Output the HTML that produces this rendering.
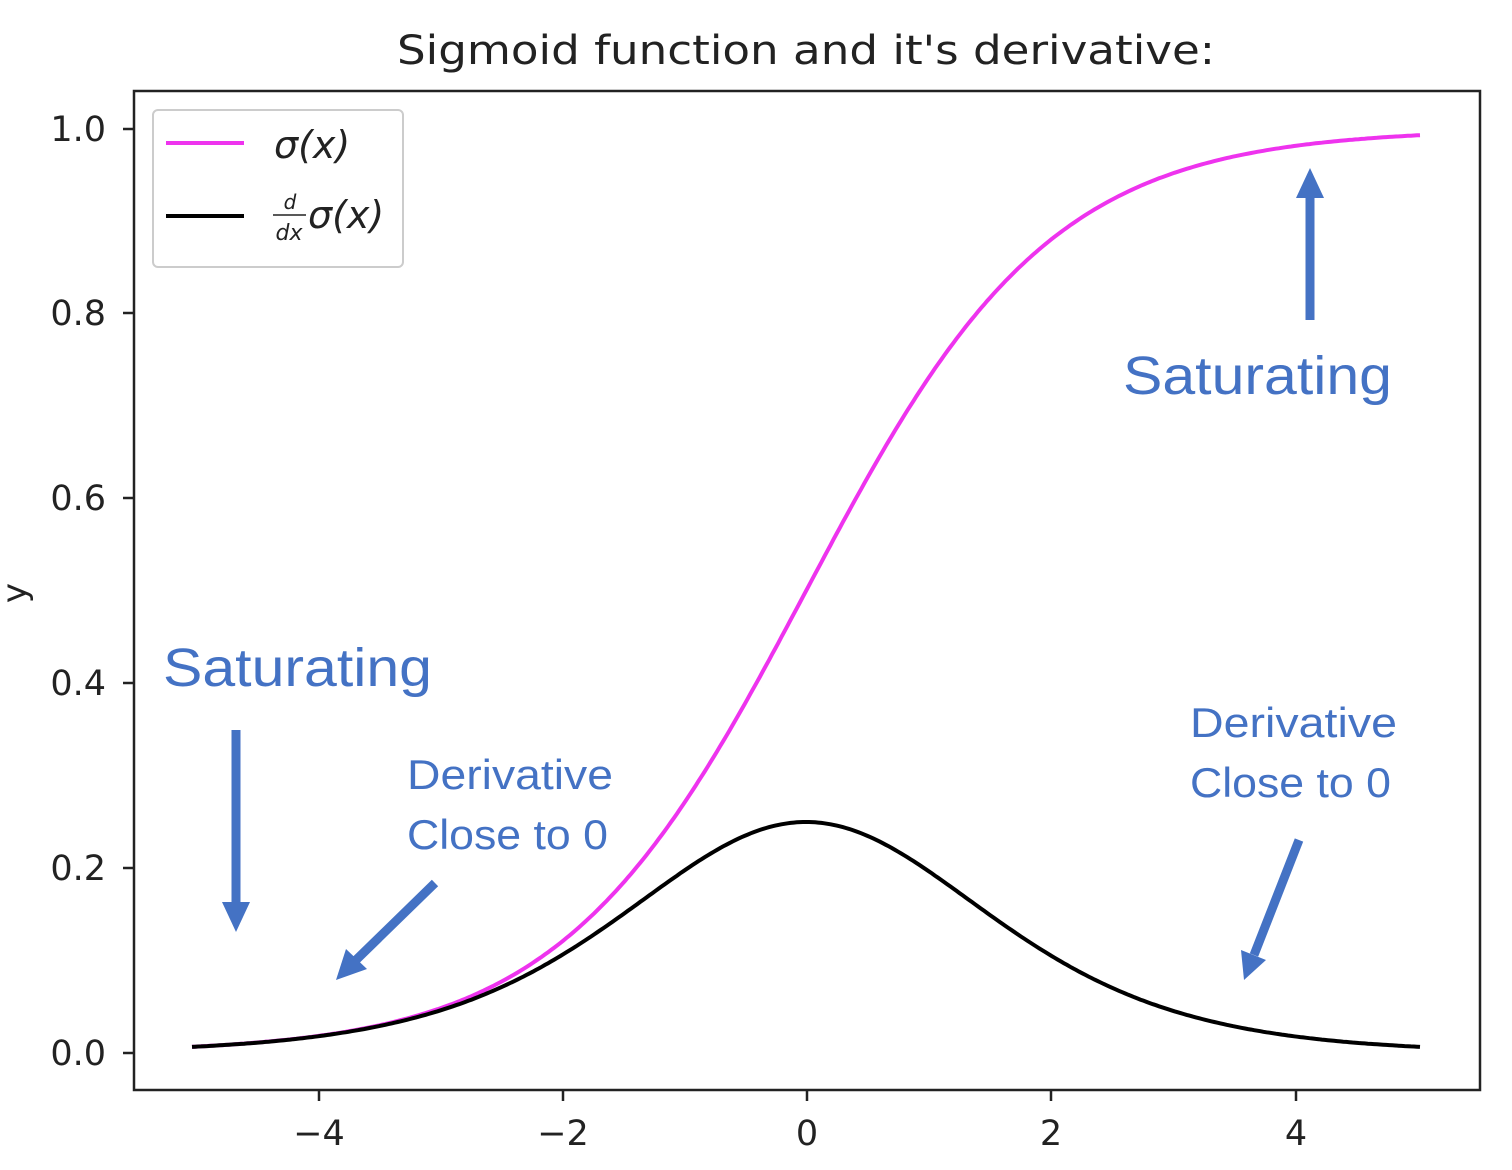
<!DOCTYPE html>
<html><head><meta charset="utf-8"><style>
html,body{margin:0;padding:0;background:#fff;}
svg{display:block;font-family:"DejaVu Sans","Liberation Sans",sans-serif;}
</style></head><body>
<svg id="s" width="1512" height="1170" viewBox="0 0 1512 1170" xmlns="http://www.w3.org/2000/svg">
<rect width="1512" height="1170" fill="#fff"/>
<text x="806" y="64" font-size="40" text-anchor="middle" fill="#222" textLength="818" lengthAdjust="spacingAndGlyphs">Sigmoid function and it's derivative:</text>
<g id="curves"></g>
<rect x="134" y="91" width="1346" height="999" fill="none" stroke="#222" stroke-width="2.5"/>
<g stroke="#222" stroke-width="2.5">
<line x1="319" y1="1090" x2="319" y2="1101"/><line x1="563" y1="1090" x2="563" y2="1101"/>
<line x1="807" y1="1090" x2="807" y2="1101"/><line x1="1051" y1="1090" x2="1051" y2="1101"/>
<line x1="1296" y1="1090" x2="1296" y2="1101"/>
<line x1="123" y1="129" x2="134" y2="129"/><line x1="123" y1="313" x2="134" y2="313"/>
<line x1="123" y1="498" x2="134" y2="498"/><line x1="123" y1="683" x2="134" y2="683"/>
<line x1="123" y1="868" x2="134" y2="868"/><line x1="123" y1="1053" x2="134" y2="1053"/>
</g>
<g font-size="35" fill="#222" text-anchor="middle">
<text x="319" y="1145">−4</text><text x="563" y="1145">−2</text><text x="807" y="1145">0</text>
<text x="1051" y="1145">2</text><text x="1296" y="1145">4</text>
</g>
<g font-size="35" fill="#222" text-anchor="end">
<text x="106" y="141">1.0</text><text x="106" y="325">0.8</text><text x="106" y="510">0.6</text>
<text x="106" y="695">0.4</text><text x="106" y="880">0.2</text><text x="106" y="1065">0.0</text>
</g>
<text x="26" y="593" font-size="34" fill="#222" text-anchor="middle" transform="rotate(-90 26 593)">y</text>
<rect x="153" y="110" width="250" height="157" rx="5" fill="#fff" fill-opacity="0.85" stroke="#ccc" stroke-width="2"/>
<line x1="166" y1="143" x2="244" y2="143" stroke="#ee33ee" stroke-width="4"/>
<line x1="166" y1="216" x2="244" y2="216" stroke="#000" stroke-width="4"/>
<text x="274" y="158" font-size="38" fill="#222" font-style="italic">σ(x)</text>
<text x="290" y="209" font-size="20" fill="#222" font-style="italic" text-anchor="middle">d</text>
<line x1="273" y1="215" x2="306" y2="215" stroke="#222" stroke-width="1.5"/>
<text x="289" y="240" font-size="22" fill="#222" font-style="italic" text-anchor="middle">dx</text>
<text x="308" y="228" font-size="38" fill="#222" font-style="italic">σ(x)</text>
<g fill="#4472C4" font-family="'Liberation Sans',sans-serif">
<text x="163" y="686" font-size="54" textLength="269" lengthAdjust="spacingAndGlyphs">Saturating</text>
<text x="1123" y="394" font-size="54" textLength="269" lengthAdjust="spacingAndGlyphs">Saturating</text>
<text x="407" y="789" font-size="42" textLength="206" lengthAdjust="spacingAndGlyphs">Derivative</text>
<text x="407" y="849" font-size="42" textLength="201" lengthAdjust="spacingAndGlyphs">Close to 0</text>
<text x="1190" y="737" font-size="42" textLength="207" lengthAdjust="spacingAndGlyphs">Derivative</text>
<text x="1190" y="797" font-size="42" textLength="201" lengthAdjust="spacingAndGlyphs">Close to 0</text>
</g>
<g stroke="#4472C4" stroke-width="9" fill="#4472C4">
<line x1="236" y1="730" x2="236" y2="905"/><polygon points="222,902 250,902 236,932" stroke="none"/>
<line x1="1310" y1="320" x2="1310" y2="195"/><polygon points="1296,198 1324,198 1310,168" stroke="none"/>
<line x1="435" y1="883" x2="356" y2="960"/><polygon points="346,949 367,969 336,980" stroke="none"/>
<line x1="1299" y1="840" x2="1254" y2="955"/><polygon points="1241,950 1266,960 1244,980" stroke="none"/>
</g>
</svg>
<script>
(function(){
var X=function(x){return 806+122.8*x;},Y=function(y){return 1053-924*y;};
var a=[],b=[];
for(var i=0;i<=400;i++){var x=-5+10*i/400;var s=1/(1+Math.exp(-x));
a.push(X(x).toFixed(1)+','+Y(s).toFixed(1));b.push(X(x).toFixed(1)+','+Y(s*(1-s)).toFixed(1));}
var g=document.getElementById('curves');
g.innerHTML='<polyline points="'+a.join(' ')+'" fill="none" stroke="#ee33ee" stroke-width="4"/>'+
'<polyline points="'+b.join(' ')+'" fill="none" stroke="#000" stroke-width="4"/>';
})();
</script>
</body></html>
